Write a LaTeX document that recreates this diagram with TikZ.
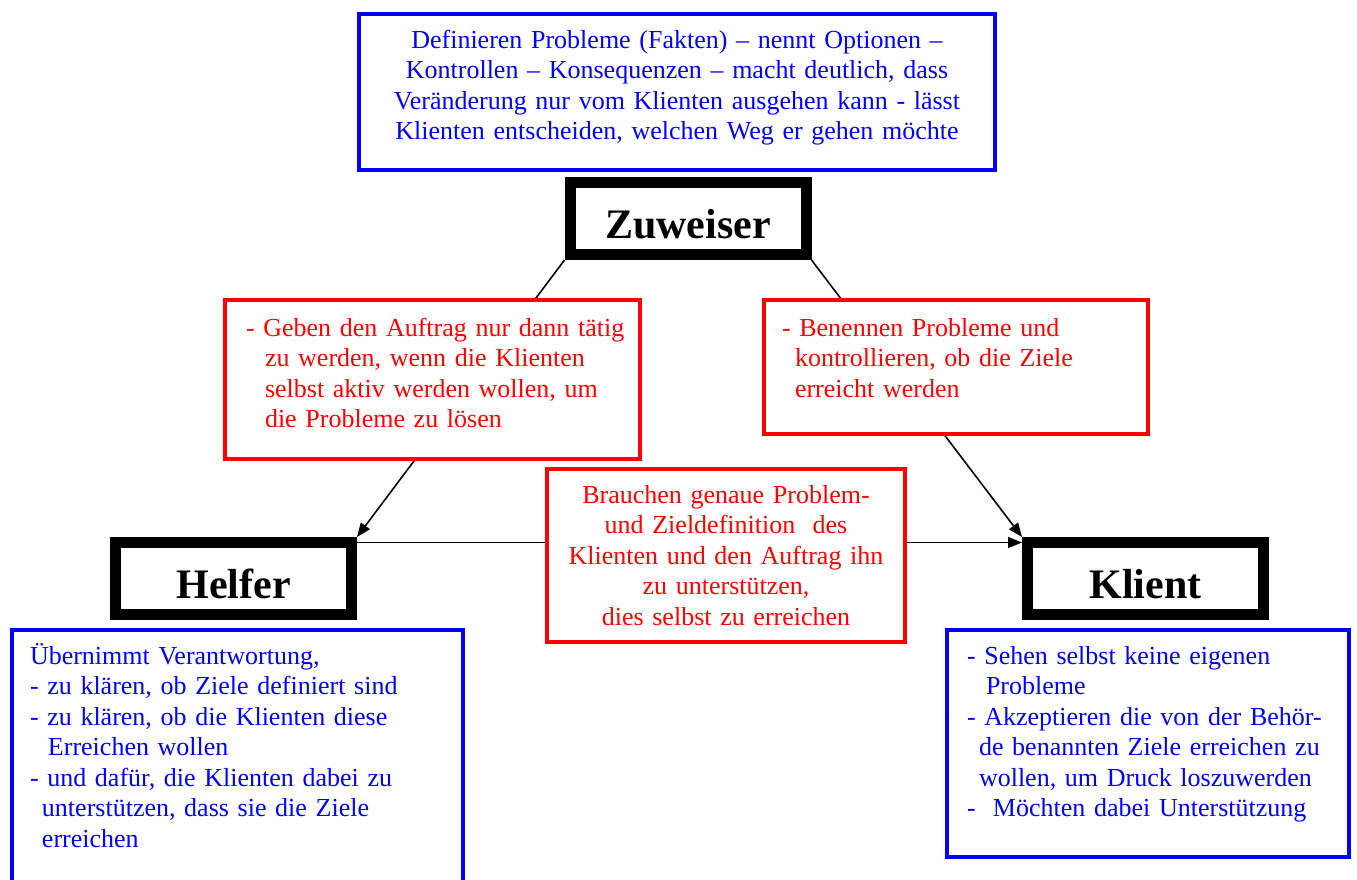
\documentclass[tikz,border=0pt]{standalone}
\usepackage{fontspec}
\setmainfont{Liberation Serif}
\usetikzlibrary{arrows.meta}

\begin{document}
\begin{tikzpicture}[x = 1pt, y = -1pt,
  rolle/.style = {draw, fill = white, line width = 11pt, inner sep = 0pt,
    minimum width = 236pt, minimum height = 72pt,
    text height = 39pt, text depth = 0pt,
    font = \fontsize{42}{48}\selectfont\bfseries},
  blaubox/.style = {draw = blue, text = blue, fill = white, line width = 4pt,
    anchor = north west, inner sep = 0pt, align = left,
    font = \fontsize{26}{30.5}\selectfont},
  rotbox/.style = {blaubox, draw = red, text = red},
  einzug/.style = {execute at begin node = {\leftskip=#1}},
  pfeil/.style = {line width = 1.6pt, -{Triangle[length = 14pt, width = 11pt]}}]

  % Page
  \useasboundingbox (0,0) rectangle (1357,879);

  % The three roles
  \node[rolle] (zuweiser) at (688,218.5) {Zuweiser};
  \node[rolle] (helfer) at (233.5,578.5) {Helfer};
  \node[rolle] (klient) at (1145.5,578.5) {Klient};

  % Connectors
  \draw[pfeil] (zuweiser.south west) -- (helfer.north east);
  \draw[pfeil] (zuweiser.south east) -- (klient.north west);
  \draw[pfeil] ([yshift = -5.5pt]helfer.north east) -- ([yshift = -5.5pt]klient.north west);

  % Text of the Zuweiser
  \node[blaubox, align = center, text width = 636pt,
    text height = 34pt, text depth = 122pt] (aufgabe) at (357,12)
    {Definieren Probleme (Fakten) – nennt Optionen –\\
     Kontrollen – Konsequenzen – macht deutlich, dass\\
     Veränderung nur vom Klienten ausgehen kann - lässt\\
     Klienten entscheiden, welchen Weg er gehen möchte};

  % Red boxes
  \node[rotbox, einzug = 21pt, text width = 415pt,
    text height = 36pt, text depth = 123pt] (auftrag) at (223,298)
    {- Geben den Auftrag nur dann tätig\\
     \hspace*{19pt}zu werden, wenn die Klienten\\
     \hspace*{19pt}selbst aktiv werden wollen, um\\
     \hspace*{19pt}die Probleme zu lösen};
  \node[rotbox, einzug = 18pt, text width = 384pt,
    text height = 36pt, text depth = 98pt] (kontrolle) at (762,298)
    {- Benennen Probleme und\\
     \hspace*{13pt}kontrollieren, ob die Ziele\\
     \hspace*{13pt}erreicht werden};
  \node[rotbox, align = center, text width = 358pt,
    text height = 34pt, text depth = 139pt] (bedarf) at (545,467)
    {Brauchen genaue Problem-\\
     und Zieldefinition\ \ des\\
     Klienten und den Auftrag ihn\\
     zu unterstützen,\\
     dies selbst zu erreichen};

  % Blue boxes below
  \node[blaubox, einzug = 18pt, text width = 451pt,
    text height = 34pt, text depth = 234pt] (verantwortung) at (10,628)
    {Übernimmt Verantwortung,\\
     - zu klären, ob Ziele definiert sind\\
     - zu klären, ob die Klienten diese\\
     \hspace*{18pt}Erreichen wollen\\
     - und dafür, die Klienten dabei zu\\
     \hspace*{12pt}unterstützen, dass sie die Ziele\\
     \hspace*{12pt}erreichen};
  \node[blaubox, einzug = 20pt, text width = 402pt,
    text height = 34pt, text depth = 193pt] (sicht) at (945,628)
    {- Sehen selbst keine eigenen\\
     \hspace*{19pt}Probleme\\
     - Akzeptieren die von der Behör-\\
     \hspace*{12pt}de benannten Ziele erreichen zu\\
     \hspace*{12pt}wollen, um Druck loszuwerden\\
     -\ \ Möchten dabei Unterstützung};

\end{tikzpicture}
\end{document}
